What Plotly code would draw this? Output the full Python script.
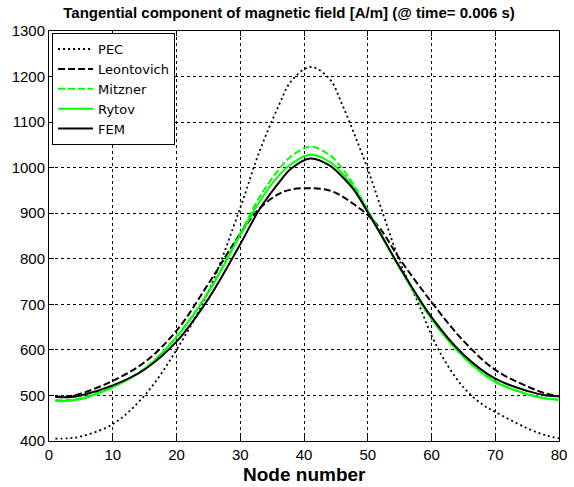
import plotly.graph_objects as go

nodes = [1, 3, 5, 10, 15, 20, 25, 30, 33, 36, 38, 41, 44, 46, 48, 50, 52, 55, 60, 65, 70, 75, 78, 80]
pec_nodes = [1, 3, 5, 10, 15, 20, 25, 30, 33, 36, 38, 41, 44, 46, 48, 50, 52, 55, 58, 60, 62, 65, 68, 70, 75, 78, 80]

pec = [405, 406, 410, 437, 500, 600, 728, 912, 1035, 1135, 1190, 1221, 1195, 1138, 1070, 997, 915, 795, 700, 632, 578, 518, 480, 464, 428, 412, 406]
leontovich = [497, 498, 504, 532, 573, 642, 745, 855, 910, 942, 952, 955, 950, 937, 918, 896, 865, 800, 705, 620, 556, 520, 504, 498]
mitzner = [490, 490, 494, 520, 559, 629, 728, 856, 935, 995, 1025, 1046, 1028, 998, 958, 907, 856, 780, 668, 585, 531, 503, 494, 491]
rytov = [488, 488, 492, 518, 558, 628, 726, 852, 925, 982, 1008, 1029, 1013, 988, 952, 905, 855, 780, 668, 585, 530, 503, 493, 490]
fem = [497, 496, 500, 522, 557, 618, 712, 832, 908, 966, 998, 1020, 1005, 980, 948, 902, 855, 782, 672, 590, 537, 510, 500, 498]

x_ticks = [0, 10, 20, 30, 40, 50, 60, 70, 80]
y_ticks = [400, 500, 600, 700, 800, 900, 1000, 1100, 1200, 1300]

title_text = "Tangential component of magnetic field [A/m] (@ time= 0.006 s)"
xlabel = "Node number"

series = [
    ("PEC", pec_nodes, pec, "black", "2px,3px", 1.8),
    ("Leontovich", nodes, leontovich, "black", "7px,3px", 2),
    ("Mitzner", nodes, mitzner, "#00FF00", "7px,3px", 2),
    ("Rytov", nodes, rytov, "#00FF00", "solid", 2),
    ("FEM", nodes, fem, "black", "solid", 2),
]

fig = go.Figure()
for name, xs, vals, color, dash, w in series:
    fig.add_trace(go.Scatter(
        x=xs, y=vals, name=name, mode="lines",
        line=dict(color=color, dash=dash, width=w, shape="spline", smoothing=1.0),
    ))

axis_common = dict(
    showline=True, linecolor="black", linewidth=1, mirror="ticks",
    ticks="inside", ticklen=5, tickcolor="black", tickwidth=1,
    showgrid=True, gridcolor="black", gridwidth=1, griddash="3px,3px",
    zeroline=False,
    tickfont=dict(family="Arial", size=15, color="black"),
)

fig.update_xaxes(range=[0, 80], tickvals=x_ticks, ticklabeloverflow="allow", **axis_common)
fig.update_yaxes(range=[400, 1300], tickvals=y_ticks, ticklabeloverflow="allow", **axis_common)

fig.update_layout(
    width=574, height=487,
    margin=dict(l=49, r=7, t=31, b=46),
    paper_bgcolor="white", plot_bgcolor="white",
    font=dict(family="Arial", color="black"),
    title=dict(text="<b>" + title_text + "</b>", x=289/574, xanchor="center",
               y=1 - 13/487, yanchor="middle",
               font=dict(family="Arial", size=15, color="black")),
    showlegend=True,
    legend=dict(x=0.006, y=0.995, xanchor="left", yanchor="top",
                bgcolor="white", bordercolor="black", borderwidth=1,
                font=dict(family="DejaVu Sans", size=13, color="black"),
                itemwidth=35, tracegroupgap=0),
    annotations=[dict(text="<b>" + xlabel + "</b>", x=0.5, xref="paper",
                      y=-(474 - 441)/410, yref="paper", yanchor="middle",
                      showarrow=False,
                      font=dict(family="Arial", size=19, color="black"))],
)

fig.write_html("out.html")
